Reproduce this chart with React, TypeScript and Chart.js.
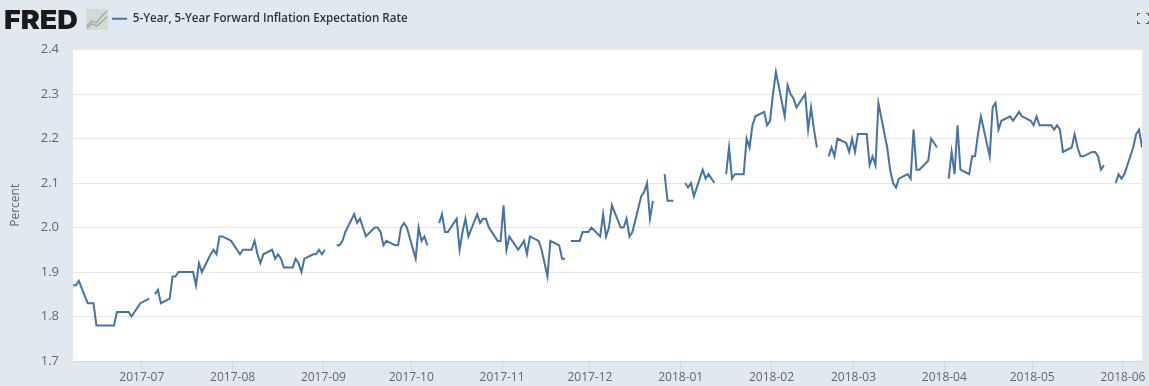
import React, { useEffect, useRef } from "react";
import { Chart, registerables } from "chart.js";

Chart.register(...registerables);

const seriesName = "5-Year, 5-Year Forward Inflation Expectation Rate";
const axisTitle = "Percent";
const monthTicks = ["2017-07","2017-08","2017-09","2017-10","2017-11","2017-12","2018-01","2018-02","2018-03","2018-04","2018-05","2018-06"];
const firstDate = "2017-06-07";
const lastDate = "2018-06-07";

const dates2017a = [
  "06-07","06-08","06-09","06-12","06-13","06-14","06-15","06-16","06-19","06-20","06-21","06-22","06-23","06-26","06-27","06-28","06-29","06-30",
  "07-03","07-04","07-05","07-06","07-07","07-10","07-11","07-12","07-13","07-14","07-17","07-18","07-19","07-20","07-21","07-24","07-25","07-26","07-27","07-28","07-31",
  "08-01","08-02","08-03","08-04","08-07","08-08","08-09","08-10","08-11","08-14","08-15","08-16","08-17","08-18","08-21","08-22","08-23","08-24","08-25","08-28","08-29","08-30","08-31",
  "09-01","09-04","09-05","09-06","09-07","09-08","09-11","09-12","09-13","09-14","09-15","09-18","09-19","09-20","09-21","09-22","09-25","09-26","09-27","09-28","09-29",
];
const rates2017a = [
  1.87,1.87,1.88,1.83,1.83,1.83,1.78,1.78,1.78,1.78,1.78,1.81,1.81,1.81,1.80,1.81,1.82,1.83,
  1.84,null,1.85,1.86,1.83,1.84,1.89,1.89,1.90,1.90,1.90,1.90,1.87,1.92,1.90,1.94,1.95,1.94,1.98,1.98,1.97,
  1.96,1.95,1.94,1.95,1.95,1.97,1.94,1.92,1.94,1.95,1.93,1.94,1.93,1.91,1.91,1.93,1.92,1.90,1.93,1.94,1.94,1.95,1.94,
  1.95,null,1.96,1.96,1.97,1.99,2.03,2.01,2.02,2.00,1.98,2.00,2.00,1.99,1.96,1.97,1.96,1.96,2.00,2.01,2.00,
];
const dates2017b = [
  "10-02","10-03","10-04","10-05","10-06","10-09","10-10","10-11","10-12","10-13","10-16","10-17","10-18","10-19","10-20","10-23","10-24","10-25","10-26","10-27","10-30","10-31",
  "11-01","11-02","11-03","11-06","11-07","11-08","11-09","11-10","11-13","11-14","11-15","11-16","11-17","11-20","11-21","11-22","11-23","11-24","11-27","11-28","11-29","11-30",
  "12-01","12-04","12-05","12-06","12-07","12-08","12-11","12-12","12-13","12-14","12-15","12-18","12-19","12-20","12-21","12-22","12-25","12-26","12-27","12-28","12-29",
];
const rates2017b = [
  1.93,2.00,1.97,1.98,1.96,null,2.01,2.03,1.99,1.99,2.02,1.95,1.99,2.02,1.98,2.03,2.01,2.02,2.02,2.00,1.97,1.97,
  2.05,1.95,1.98,1.95,1.96,1.97,1.94,1.98,1.97,1.95,1.92,1.89,1.97,1.96,1.93,1.93,null,1.97,1.97,1.99,1.99,1.99,
  2.00,1.98,2.03,1.98,2.00,2.05,2.00,2.00,2.02,1.98,1.99,2.07,2.08,2.10,2.02,2.06,null,2.12,2.06,2.06,2.06,
];
const dates2018a = [
  "01-01","01-02","01-03","01-04","01-05","01-08","01-09","01-10","01-11","01-12","01-15","01-16","01-17","01-18","01-19","01-22","01-23","01-24","01-25","01-26","01-29","01-30","01-31",
  "02-01","02-02","02-05","02-06","02-07","02-08","02-09","02-12","02-13","02-14","02-15","02-16","02-19","02-20","02-21","02-22","02-23","02-26","02-27","02-28",
  "03-01","03-02","03-05","03-06","03-07","03-08","03-09","03-12","03-13","03-14","03-15","03-16","03-19","03-20","03-21","03-22","03-23","03-26","03-27","03-28","03-29","03-30",
];
const rates2018a = [
  null,2.10,2.09,2.10,2.07,2.13,2.11,2.12,2.11,2.10,null,2.12,2.18,2.11,2.12,2.12,2.20,2.18,2.23,2.25,2.26,2.23,2.24,
  2.30,2.35,2.25,2.32,2.30,2.29,2.27,2.30,2.22,2.27,2.22,2.18,null,2.16,2.18,2.16,2.20,2.19,2.17,2.20,
  2.17,2.21,2.21,2.14,2.16,2.14,2.28,2.18,2.13,2.10,2.09,2.11,2.12,2.11,2.22,2.13,2.13,2.15,2.20,2.19,2.18,null,
];
const dates2018b = [
  "04-02","04-03","04-04","04-05","04-06","04-09","04-10","04-11","04-12","04-13","04-16","04-17","04-18","04-19","04-20","04-23","04-24","04-25","04-26","04-27","04-30",
  "05-01","05-02","05-03","05-04","05-07","05-08","05-09","05-10","05-11","05-14","05-15","05-16","05-17","05-18","05-21","05-22","05-23","05-24","05-25","05-28","05-29","05-30","05-31",
  "06-01","06-04","06-05","06-06","06-07",
];
const rates2018b = [
  2.11,2.17,2.12,2.23,2.13,2.12,2.16,2.16,2.21,2.25,2.16,2.27,2.28,2.22,2.24,2.25,2.24,2.25,2.26,2.25,2.24,
  2.23,2.25,2.23,2.23,2.23,2.22,2.23,2.22,2.17,2.18,2.21,2.18,2.16,2.16,2.17,2.17,2.16,2.13,2.14,null,2.10,2.12,2.11,
  2.12,2.18,2.21,2.22,2.18,
];

const toDay = (iso: string) => Date.UTC(+iso.slice(0, 4), +iso.slice(5, 7) - 1, +iso.slice(8, 10)) / 86400000;

const points = [
  ...dates2017a.map((d, i) => ({ x: toDay("2017-" + d), y: rates2017a[i] })),
  ...dates2017b.map((d, i) => ({ x: toDay("2017-" + d), y: rates2017b[i] })),
  ...dates2018a.map((d, i) => ({ x: toDay("2018-" + d), y: rates2018a[i] })),
  ...dates2018b.map((d, i) => ({ x: toDay("2018-" + d), y: rates2018b[i] })),
];

const LINE = "#4572a7";
const FONT = '"Open Sans", sans-serif';
const tickValue = (m: string) => toDay(m + "-01") - 0.5;

export default function App() {
  const ref = useRef<HTMLCanvasElement | null>(null);
  useEffect(() => {
    document.body.style.margin = "0";
    const chart = new Chart(ref.current as HTMLCanvasElement, {
      type: "line",
      data: {
        datasets: [{
          label: seriesName,
          data: points as any,
          borderColor: LINE,
          backgroundColor: LINE,
          borderWidth: 2,
          pointRadius: 0,
          tension: 0,
          spanGaps: false,
          fill: false,
        }],
      },
      options: {
        animation: false,
        responsive: false,
        parsing: false as any,
        layout: { padding: { top: 15, right: 7, bottom: 0, left: 0 } },
        plugins: {
          tooltip: { enabled: false },
          legend: {
            display: true,
            position: "top",
            align: "start",
            labels: {
              boxWidth: 15,
              boxHeight: 2,
              padding: 13,
              color: "#333333",
              font: { family: FONT, size: 11.6, weight: 600 as any },
              generateLabels: (c: any) =>
                (Chart.defaults.plugins.legend.labels as any).generateLabels(c).map((l: any) => ({ ...l, lineWidth: 0 })),
            },
          },
        },
        scales: {
          x: {
            type: "linear",
            min: toDay(firstDate),
            max: toDay(lastDate),
            afterBuildTicks: (s: any) => { s.ticks = monthTicks.map((m) => ({ value: tickValue(m) })); },
            afterFit: (s: any) => { s.height = 25; },
            grid: { drawOnChartArea: false, drawTicks: true, tickLength: 10, color: "#ccd6eb" },
            border: { display: true, color: "#ccd6eb", width: 1 },
            ticks: {
              autoSkip: false, maxRotation: 0, minRotation: 0, padding: -1,
              color: "#666666",
              font: { family: FONT, size: 12 },
              callback: (v: any) => monthTicks.find((m) => tickValue(m) === v) ?? "",
            },
          },
          y: {
            min: 1.7,
            max: 2.4,
            afterFit: (s: any) => { s.width = 73; },
            grid: { color: "#e6e6e6", drawTicks: false },
            border: { display: false },
            title: { display: true, text: axisTitle, color: "#666666", font: { family: FONT, size: 12 }, padding: { top: 8, bottom: 0 } },
            ticks: {
              stepSize: 0.1, padding: 14,
              color: "#666666",
              font: { family: FONT, size: 13 },
              callback: (v: any) => Number(v).toFixed(1),
            },
          },
        },
      },
      plugins: [
        {
          id: "plotBackground",
          beforeDraw(c: any) {
            const a = c.chartArea;
            c.ctx.save();
            c.ctx.fillStyle = "#ffffff";
            c.ctx.fillRect(a.left, a.top, a.right - a.left, a.bottom - a.top);
            c.ctx.restore();
          },
        },
        {
          id: "legendPlace",
          afterLayout(c: any) {
            c.legend.left = 112 - 13;
            c.legend.top = 0;
          },
        },
      ],
    } as any);
    return () => chart.destroy();
  }, []);

  return (
    <div style={{ position: "fixed", left: 0, top: 0, width: 1149, height: 386, background: "#e1e9f0", overflow: "hidden" }}>
      <canvas ref={ref} width={1149} height={386} style={{ display: "block", position: "absolute", left: 0, top: 0 }} />
      <div style={{ position: "absolute", left: 4, top: 5, fontFamily: "Inter, sans-serif", fontWeight: 900, fontSize: 26, lineHeight: "30px", color: "#1a1a1a", letterSpacing: 0, transform: "scaleX(1.1)", transformOrigin: "left center" }}>FRED</div>
      <svg width={22} height={21} style={{ position: "absolute", left: 86, top: 9 }}>
        <rect x={0} y={0} width={22} height={21} fill="#d5d9d6" />
        <polyline points="1,17 6,12 10,14 15,8 21,2" fill="none" stroke="#8da7c4" strokeWidth={1.2} />
        <polyline points="1,19 6,15 11,17 16,12 21,8" fill="none" stroke="#8fb36a" strokeWidth={1.2} />
      </svg>
      <svg width={12} height={11} style={{ position: "absolute", left: 1137, top: 13 }}>
        <path d="M0.5 3V0.5H3M9 0.5H11.5V3M11.5 8V10.5H9M3 10.5H0.5V8" fill="none" stroke="#555" strokeWidth={1} />
      </svg>
    </div>
  );
}
